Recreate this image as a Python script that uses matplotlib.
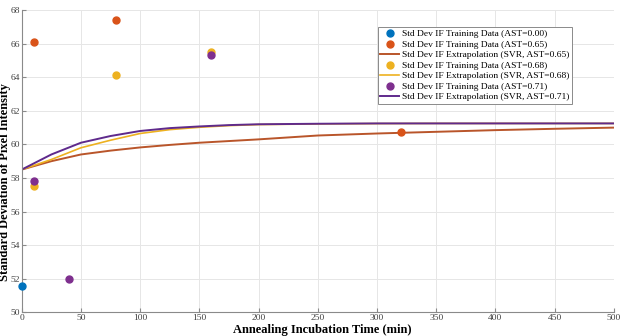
import numpy as np
import matplotlib
matplotlib.use('Agg')
import matplotlib.pyplot as plt

plt.rcParams['font.family'] = ['Liberation Serif', 'DejaVu Serif']

# Training data (time in min, std dev of pixel intensity)
t_000 = [0]
y_000 = [51.55]

t_065 = [10, 80, 320]
y_065 = [66.09, 67.40, 60.73]

t_068 = [10, 80, 160]
y_068 = [57.52, 64.13, 65.49]

t_071 = [10, 40, 160]
y_071 = [57.82, 51.98, 65.31]

# SVR extrapolation curves
t_fit = [0, 25, 50, 75, 100, 125, 150, 175, 200, 250, 300, 350, 400, 450, 500]
fit_065 = [58.50, 59.00, 59.40, 59.63, 59.82, 59.97, 60.10, 60.20, 60.30, 60.53, 60.65, 60.75, 60.85, 60.93, 61.00]
fit_068 = [58.50, 59.10, 59.80, 60.25, 60.65, 60.88, 61.02, 61.12, 61.18, 61.22, 61.24, 61.25, 61.25, 61.25, 61.25]
fit_071 = [58.50, 59.40, 60.10, 60.50, 60.80, 60.97, 61.07, 61.15, 61.20, 61.23, 61.25, 61.25, 61.25, 61.25, 61.25]

c_blue = '#0072BD'
c_orange = '#D95319'
c_yellow = '#EDB120'
c_purple = '#7E2F8E'

fig = plt.figure(figsize=(6.24, 3.36), dpi=100)
ax = fig.add_axes([0.0348, 0.0705, 0.949, 0.8995])

ax.plot(t_000, y_000, 'o', color=c_blue, ms=5, label='Std Dev IF Training Data (AST=0.00)', zorder=3, clip_on=False)
ax.plot(t_065, y_065, 'o', color=c_orange, ms=5, label='Std Dev IF Training Data (AST=0.65)', zorder=3)
ax.plot(t_fit, fit_065, '-', color='#B9552A', lw=1.4, label='Std Dev IF Extrapolation (SVR, AST=0.65)', zorder=2)
ax.plot(t_068, y_068, 'o', color=c_yellow, ms=5, label='Std Dev IF Training Data (AST=0.68)', zorder=3)
ax.plot(t_fit, fit_068, '-', color=c_yellow, lw=1.2, label='Std Dev IF Extrapolation (SVR, AST=0.68)', zorder=2)
ax.plot(t_071, y_071, 'o', color=c_purple, ms=5, label='Std Dev IF Training Data (AST=0.71)', zorder=3)
ax.plot(t_fit, fit_071, '-', color='#5F2A8C', lw=1.4, label='Std Dev IF Extrapolation (SVR, AST=0.71)', zorder=2)

ax.set_xlim(0, 500)
ax.set_ylim(50, 68)
ax.set_xticks(np.arange(0, 501, 50))
ax.set_yticks(np.arange(50, 69, 2))
ax.grid(True, color='#e6e6e6', lw=0.7)
ax.set_axisbelow(True)

for s in ['top', 'right']:
    ax.spines[s].set_visible(False)
for s in ['left', 'bottom']:
    ax.spines[s].set_color('#8a8a8a')
    ax.spines[s].set_linewidth(0.8)
ax.tick_params(direction='in', length=3, pad=1.5, colors='#8a8a8a', labelcolor='#404040', labelsize=6.8)

ax.set_xlabel('Annealing Incubation Time (min)', fontsize=9, fontweight='bold')
ax.set_ylabel('Standard Deviation of Pixel Intensity', fontsize=9, fontweight='bold')
ax.xaxis.set_label_coords(0.508, -0.038)
ax.yaxis.set_label_coords(-0.018, 0.43)

leg = ax.legend(loc='upper left', bbox_to_anchor=(0.593, 0.96), fontsize=6.8, handlelength=2.0,
                handletextpad=0.3, borderpad=0.3, labelspacing=0.2, framealpha=1, fancybox=False,
                edgecolor='#8a8a8a')
leg.get_frame().set_linewidth(0.7)

fig.savefig('out.png', dpi=100)
